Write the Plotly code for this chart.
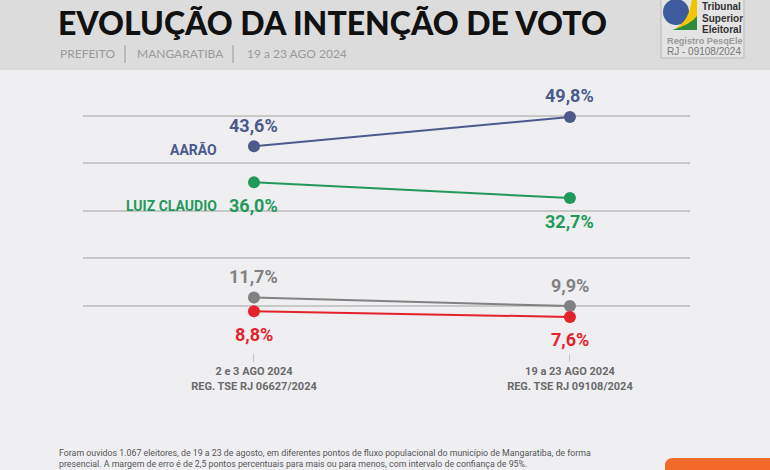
import plotly.graph_objects as go

# ---- data ----
periods = ["2 e 3 AGO 2024<br>REG. TSE RJ 06627/2024", "19 a 23 AGO 2024<br>REG. TSE RJ 09108/2024"]
x_idx = [0, 1]
aarao = [43.6, 49.8]
luiz = [36.0, 32.7]
outro1 = [11.7, 9.9]
outro2 = [8.8, 7.6]
series_names = ["AARÃO", "LUIZ CLAUDIO", "", ""]
series_colors = ["#4b5a8b", "#1f9a5b", "#818181", "#e3232c"]
label_pos = ["above", "below", "above", "below"]
y_ticks = [0, 10, 20, 30, 40, 50]

W, H = 770, 470
L, R, T, B = 83, 80, 100, 117
PW, PH = W - L - R, H - T - B

def px(x):
    return (x - L) / PW

def py(y):
    return (H - B - y) / PH

COND = "Roboto, sans-serif"

fig = go.Figure()
all_series = [aarao, luiz, outro1, outro2]
for vals, name, col in zip(all_series, series_names, series_colors):
    fig.add_trace(go.Scatter(
        x=x_idx, y=vals, mode="lines+markers", name=name or "outros",
        line=dict(color=col, width=2),
        marker=dict(color=col, size=12),
        hoverinfo="skip", showlegend=False, cliponaxis=False,
    ))

def txt_ann(text, x, y, size, color, family=COND, weight="normal", xanchor="left"):
    return dict(x=px(x), y=py(y), xref="paper", yref="paper", xanchor=xanchor, yanchor="middle",
                text=text, showarrow=False,
                font=dict(family=family, size=size, color=color, weight=weight))

annotations = []
for vals, name, col, pos in zip(all_series, series_names, series_colors, label_pos):
    for xi, v in zip(x_idx, vals):
        annotations.append(dict(
            x=xi, y=v, xref="x", yref="y", text=f"{v:.1f}%".replace(".", ","),
            showarrow=False, yshift=21 if pos == "above" else -23, yanchor="middle",
            font=dict(family=COND, size=18, color=col, weight="bold"),
        ))
# series name labels (left side)
annotations.append(txt_ann(series_names[0], 219, 149, 14, series_colors[0], weight="bold", xanchor="right"))
annotations.append(txt_ann(series_names[1], 219, 206, 14, series_colors[1], weight="bold", xanchor="right"))

# header texts
annotations.append(txt_ann("EVOLUÇÃO DA INTENÇÃO DE VOTO", 56, 22, 32, "#111111",
                           family="Lato, Inter, sans-serif", weight=900))
for t, x0 in [("PREFEITO", 58), ("MANGARATIBA", 135), ("19 a 23 AGO 2024", 245)]:
    annotations.append(txt_ann(t, x0, 54, 12, "#9a9a9a", family="Lato, sans-serif"))
# logo texts
LOGOF = "Liberation Sans, Arial, sans-serif"
for t, yy in [("Tribunal", 7), ("Superior", 18), ("Eleitoral", 29)]:
    annotations.append(txt_ann(t, 700, yy, 10, "#333333", family=LOGOF, weight="bold"))
annotations.append(txt_ann("Registro PesqEle", 665, 41, 9.2, "#9a9a9a", family=LOGOF, weight="bold"))
annotations.append(txt_ann("RJ - 09108/2024", 665, 51, 10, "#777777", family=LOGOF))
# footer
annotations.append(txt_ann("Foram ouvidos 1.067 eleitores, de 19 a 23 de agosto, em diferentes pontos de fluxo populacional do município de Mangaratiba, de forma",
                           57, 453, 8.8, "#555555"))
annotations.append(txt_ann("presencial. A margem de erro é de 2,5 pontos percentuais para mais ou para menos, com intervalo de confiança de 95%.",
                           57, 464, 8.8, "#555555"))

shapes = [
    dict(type="rect", xref="paper", yref="paper", x0=px(0), x1=px(W), y0=py(0), y1=py(70),
         fillcolor="#dcdcdc", line=dict(width=0), layer="below"),
    dict(type="line", xref="paper", yref="paper", x0=px(125), x1=px(125), y0=py(45), y1=py(63),
         line=dict(color="#9a9a9a", width=1)),
    dict(type="line", xref="paper", yref="paper", x0=px(233), x1=px(233), y0=py(45), y1=py(63),
         line=dict(color="#9a9a9a", width=1)),
    dict(type="rect", xref="paper", yref="paper", x0=px(661), x1=px(744), y0=py(-2), y1=py(58),
         fillcolor="#e4e4e4", line=dict(color="#b9b9b9", width=1)),
    dict(type="circle", xref="paper", yref="paper", x0=px(663), x1=px(689), y0=py(-1), y1=py(25),
         fillcolor="#3e5a9e", line=dict(width=0)),
    dict(type="path", xref="paper", yref="paper",
         path=f"M {px(692)},{py(-2)} L {px(697)},{py(-2)} L {px(697)},{py(28)} L {px(676)},{py(28)} Q {px(690)},{py(20)} {px(692)},{py(-2)} Z",
         fillcolor="#f2c500", line=dict(width=0)),
    dict(type="path", xref="paper", yref="paper",
         path=f"M {px(697)},{py(16)} L {px(697)},{py(30)} L {px(672)},{py(30)} Q {px(690)},{py(25)} {px(697)},{py(16)} Z",
         fillcolor="#2e8b3e", line=dict(width=0)),
    dict(type="path", xref="paper", yref="paper",
         path=f"M {px(665)},{py(472)} L {px(665)},{py(466)} Q {px(665)},{py(458)} {px(673)},{py(458)} L {px(772)},{py(458)} L {px(772)},{py(472)} Z",
         fillcolor="#f26a2a", line=dict(width=0)),
]

fig.update_layout(
    width=W, height=H,
    margin=dict(l=L, r=R, t=T, b=B, autoexpand=False),
    paper_bgcolor="#efeff2", plot_bgcolor="#efeff2",
    xaxis=dict(range=[-0.541, 1.380], tickvals=x_idx, ticktext=periods, showgrid=False,
               zeroline=False, showline=False, ticks="outside", ticklen=8, tickcolor="#c4c4c4",
               tickwidth=1, tickfont=dict(family=COND, size=11, color="#6a6a6a", weight="bold"),
               fixedrange=True),
    yaxis=dict(range=[0, 53.38], tickvals=y_ticks, showticklabels=False, showgrid=True,
               gridcolor="#c8c8c8", gridwidth=1.5, zeroline=False, fixedrange=True),
    annotations=annotations, shapes=shapes,
    showlegend=False,
)
fig.write_html("out.html", config={"displayModeBar": False},
               post_script="document.body.style.margin='0';document.body.style.overflow='hidden';")
